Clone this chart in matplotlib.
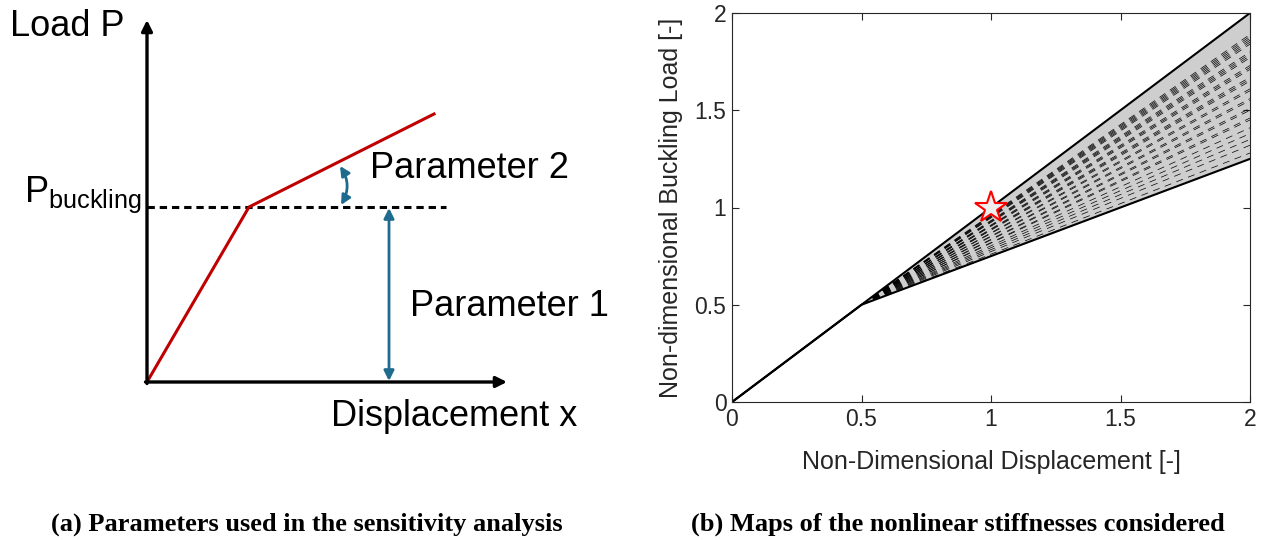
import matplotlib
matplotlib.use("Agg")
import matplotlib.pyplot as plt
import numpy as np

plt.rcParams['font.family'] = ['Liberation Sans', 'DejaVu Sans']
plt.rcParams['mathtext.default'] = 'regular'

# ---- data for panel (b) ----
disp_pts = [0, 0.5, 2.0]
upper_load = [0, 0.5, 2.0]
lower_load = [0, 0.5, 1.25]
# load reached at x = 2 by each dashed post-buckling line
dashed_end_loads = [1.89, 1.88, 1.87, 1.86, 1.85, 1.84,
                    1.80, 1.79, 1.78, 1.77,
                    1.73, 1.72, 1.71,
                    1.67, 1.66, 1.65,
                    1.61, 1.60,
                    1.56, 1.55, 1.51, 1.50, 1.46, 1.45,
                    1.41, 1.38, 1.35, 1.32, 1.28]
star_x = [1.0]
star_y = [1.0]
ticks = [0, 0.5, 1, 1.5, 2]
tick_labels = ['0', '0.5', '1', '1.5', '2']

# ---- schematic for panel (a), in pixel units of the figure ----
origin = (147, 382)
y_axis_top = (147, 20)
x_axis_end = (507, 382)
knee = (249, 207)
red_end = (434, 114)
dash_end = (446, 207)
p1_x = 389
blue = '#1f6b8e'
red = '#c00000'

fig = plt.figure(figsize=(12.63, 5.4), dpi=100)

# left panel: schematic
ax0 = fig.add_axes([0, 0, 1, 1])
ax0.set_xlim(0, 1263)
ax0.set_ylim(540, 0)
ax0.axis('off')

ax0.annotate('', xy=y_axis_top, xytext=(origin[0], origin[1] + 1.5),
             arrowprops=dict(arrowstyle='-|>', color='black', lw=2.4,
                             mutation_scale=16, shrinkA=0, shrinkB=0))
ax0.annotate('', xy=x_axis_end, xytext=(origin[0] - 1.5, origin[1]),
             arrowprops=dict(arrowstyle='-|>', color='black', lw=2.4,
                             mutation_scale=16, shrinkA=0, shrinkB=0))
ax0.plot([origin[0], dash_end[0]], [knee[1], dash_end[1]], color='black',
         lw=2.2, linestyle=(0, (2.4, 1.6)))
ax0.plot([origin[0], knee[0], red_end[0]], [origin[1], knee[1], red_end[1]],
         color=red, lw=2.2, solid_joinstyle='miter')
ax0.annotate('', xy=(p1_x, knee[1] + 1), xytext=(p1_x, origin[1] - 1),
             arrowprops=dict(arrowstyle='<|-|>', color=blue, lw=2,
                             mutation_scale=15, shrinkA=0, shrinkB=0))
ax0.annotate('', xy=(340, 166), xytext=(341, 205),
             arrowprops=dict(arrowstyle='<|-|>', color=blue, lw=2,
                             mutation_scale=14, shrinkA=0, shrinkB=0,
                             connectionstyle='arc3,rad=0.3'))

ax0.text(10, 27, 'Load P', fontsize=26, va='center', ha='left')
ax0.text(24, 202, r'P$_{buckling}$', fontsize=26, va='baseline', ha='left')
ax0.text(370, 168, 'Parameter 2', fontsize=26, va='center', ha='left')
ax0.text(410, 307, 'Parameter 1', fontsize=26, va='center', ha='left')
ax0.text(331, 417, 'Displacement x', fontsize=26, va='center', ha='left')

# right panel: stiffness map
ax = fig.add_axes([732 / 1263, 138 / 540, 518 / 1263, 389 / 540])
ax.fill_between(disp_pts[1:], upper_load[1:], lower_load[1:],
                color='#cecece', lw=0)
for end in dashed_end_loads:
    ax.plot(disp_pts, [0, 0.5, end], color='black', lw=0.5,
            linestyle=(0, (10, 8)))
ax.plot(disp_pts, upper_load, color='black', lw=1.5)
ax.plot(disp_pts, lower_load, color='black', lw=1.5)
ax.plot(star_x, star_y, marker='*', markersize=24, markerfacecolor='#eeeeee',
        markeredgecolor='red', markeredgewidth=1.5, linestyle='none')

ax.set_xlim(0, 2)
ax.set_ylim(0, 2)
ax.set_xticks(ticks)
ax.set_xticklabels(tick_labels)
ax.set_yticks(ticks)
ax.set_yticklabels(tick_labels)
ax.tick_params(direction='in', length=5, labelsize=16.5, top=True, right=True,
               color='#262626', labelcolor='#262626', pad=4)
for s in ax.spines.values():
    s.set_color('#262626')
    s.set_linewidth(0.8)
ax.set_xlabel('Non-Dimensional Displacement [-]', fontsize=18, color='#262626',
              labelpad=14)
ax.set_ylabel('Non-dimensional Buckling Load [-]', fontsize=18, color='#262626',
              labelpad=8)

cap_font = dict(family='Liberation Serif', weight='bold', fontsize=19)
fig.text(307 / 1263, 1 - 524 / 540, '(a) Parameters used in the sensitivity analysis',
         ha='center', va='center', **cap_font)
fig.text(958 / 1263, 1 - 524 / 540, '(b) Maps of the nonlinear stiffnesses considered',
         ha='center', va='center', **cap_font)

fig.savefig('out.png', dpi=100)
